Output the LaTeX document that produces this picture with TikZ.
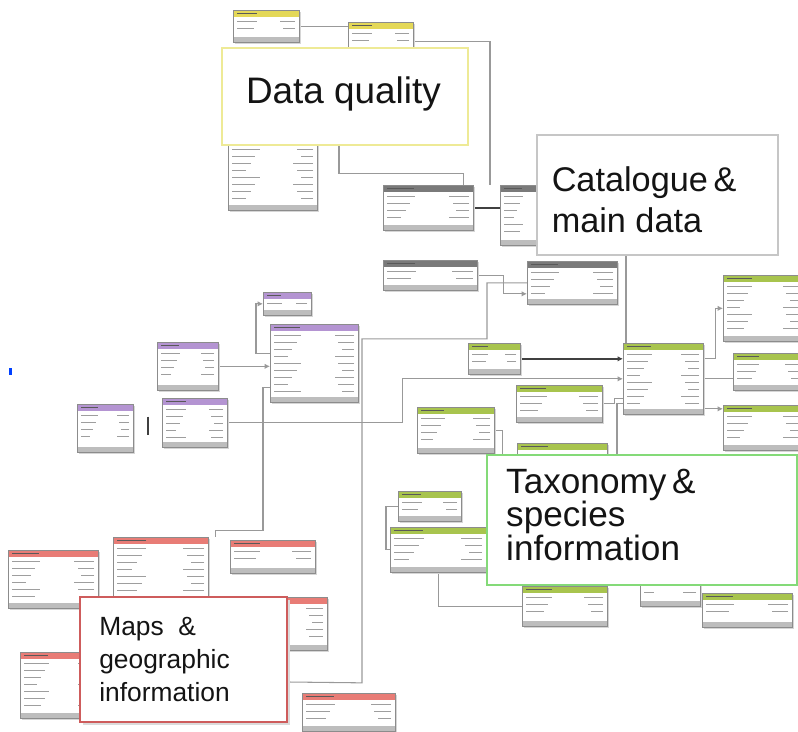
\documentclass[tikz,border=0pt]{standalone}
\usepackage{fontspec}
\setmainfont{Liberation Sans}
\usetikzlibrary{calc,backgrounds,arrows.meta}

\definecolor{dqyellow}{RGB}{228,216,88}
\definecolor{catgray}{RGB}{122,122,122}
\definecolor{geopurple}{RGB}{180,148,210}
\definecolor{taxgreen}{RGB}{168,196,78}
\definecolor{mapred}{RGB}{232,124,118}
\definecolor{dqedge}{RGB}{238,234,150}
\definecolor{catedge}{RGB}{198,198,198}
\definecolor{taxedge}{RGB}{132,218,120}
\definecolor{mapedge}{RGB}{206,92,92}

\tikzset{
	tbl/.style={fill=white, inner sep=0pt, anchor=north west},
	row/.style={black!38, line width=0.9pt},
	link/.style={draw=black!40, line width=0.6pt},
	strong/.style={draw=black!75, line width=0.9pt},
	fk/.style={link, -{Latex[length=3pt,width=3pt]}},
	area/.style={fill=white, inner sep=0pt},
	areatext/.style={inner sep=0pt, align=left, text=black!92}
}

\begin{document}
\begin{tikzpicture}[x=0.02cm, y=-0.02cm]

	\useasboundingbox (0,0) rectangle (798,732);
	\clip (0,0) rectangle (798,732);

	% tables: name / left / top / right / bottom / header colour
	\foreach \n/\xa/\ya/\xb/\yb/\hc in {
		qa/233/10/299/42/dqyellow, qb/348/22/413/60/dqyellow, qc/228/110/317/210/dqyellow,
		ca/383/185/473/230/catgray, cb/500/185/560/245/catgray,
		cc/383/260/477/290/catgray, cd/527/261/617/304/catgray,
		pa/263/292/311/315/geopurple, pb/270/324/358/402/geopurple,
		pc/157/342/218/390/geopurple, pd/162/398/227/447/geopurple, pe/77/404/133/452/geopurple,
		ga/468/343/520/374/taxgreen, gb/516/385/602/422/taxgreen, gc/417/407/494/453/taxgreen,
		gd/517/443/607/480/taxgreen, ge/623/343/703/414/taxgreen,
		gf/723/275/805/341/taxgreen, gg/733/353/805/390/taxgreen, gh/723/405/805/450/taxgreen,
		gi/398/491/461/521/taxgreen, gj/390/527/486/572/taxgreen, gk/522/586/607/626/taxgreen,
		gl/702/593/792/627/taxgreen, gm/640/560/700/606/taxgreen,
		ra/8/550/98/608/mapred, rb/113/537/208/640/mapred, rc/230/540/315/573/mapred,
		rd/250/597/327/650/mapred, re/20/652/100/718/mapred, rf/302/693/395/731/mapred}
	{
		\fill[black!16] (\xa+2,\ya+2) rectangle (\xb+2,\yb+2);
		\node[tbl, minimum width={(\xb-\xa)*0.02cm}, minimum height={(\yb-\ya)*0.02cm}] (\n) at (\xa,\ya) {};
		\fill[\hc] (\xa,\ya) rectangle (\xb,\ya+7);
		\draw[black!65, line width=0.9pt] (\xa+4,\ya+3.5) -- ++({(\xb-\xa)*0.3},0);
		\fill[black!26] (\xa,\yb-5) rectangle (\xb,\yb);
		\pgfmathtruncatemacro\nrows{(\yb-\ya-14)/7}
		\foreach \r in {1,...,\nrows}
		{
			\pgfmathsetmacro\ly{\ya+7+\r*7-2.5}
			\draw[row] (\xa+4,\ly) -- ++({(\xb-\xa)*(0.16+0.05*mod(\r*3,4))},0);
			\draw[row] (\xb-4,\ly) -- ++({-(\xb-\xa)*(0.14+0.04*mod(\r*5,3))},0);
		}
		\draw[black!45] (\n.north west) rectangle (\n.south east);
	}

	\fill[blue!75!cyan] (9,368) rectangle (12,375);

	% the four areas of the schema
	\node[area, draw=dqedge, line width=1.5pt, minimum width=4.92cm, minimum height=1.94cm] (dq) at (345,96.5) {};
	\node[areatext, anchor=west, font=\fontsize{21}{24}\selectfont] (dqtext) at ([xshift=0.5cm, yshift=0.06cm]dq.west) {Data quality};

	\node[area, draw=catedge, line width=0.7pt, minimum width=4.82cm, minimum height=2.4cm] (cat) at (657.5,195) {};
	\node[areatext, anchor=west, font=\fontsize{19.5}{23.5}\selectfont] (cattext) at ([xshift=0.3cm, yshift=-0.1cm]cat.west) {Catalogue\,\&\\main data};

	\node[area, draw=taxedge, line width=1.3pt, minimum width=6.2cm, minimum height=2.6cm] (tax) at (642,520) {};
	\node[areatext, anchor=west, font=\fontsize{20}{19}\selectfont] (taxtext) at ([xshift=0.4cm, yshift=0.1cm]tax.west) {Taxonomy\,\&\\species\\information};

	\fill[black!14] (83,600) rectangle (290,725);
	\node[area, draw=mapedge, line width=1.2pt, minimum width=4.14cm, minimum height=2.5cm] (maps) at (183.5,659.5) {};
	\node[areatext, anchor=west, font=\fontsize{15}{19}\selectfont] (mapstext) at ([xshift=0.4cm]maps.west) {Maps\ \ \&\\geographic\\information};

	\begin{pgfonlayer}{background}
		% data quality
		\draw[link] (qa.east) -- (qa.east -| qb.west);
		\draw[link] (qb.east) -| ([xshift=-0.2cm]cb.north west);
		\draw[link] ([xshift=-0.18cm]qb.south west) -- ++(0,113) -| ([xshift=-0.2cm]ca.north east);
		% catalogue
		\draw[strong] (ca.east) -- (ca.east -| cb.west);
		\draw[fk] (cc.east) -- ++(26,0) |- ([yshift=-0.22cm]cd.west);
		\draw[link] (cd.west) -- ++(-40,0) -- ++(0,56) -- ++(-125,0) -- ++(0,344) -- (maps.east |- 0,682);
		\draw[link] ($(ge.north west)+(3,0)$) -- ($(cat.south -| ge.north west)+(3,0)$);
		% geography
		\draw[fk] (pc.east) -- (pc.east -| pb.west);
		\draw[fk] ([yshift=0.2cm]pb.west) -- ++(-14,0) |- (pa.west);
		\draw[link] ([yshift=-0.48cm]pb.west) -- ++(-7,0) -- ++(0,143) -| ([xshift=0.14cm]rb.north east);
		\draw[strong] ($(pe.east)!0.5!(pd.west)$) ++(0,-9) -- ++(0,18);
		\draw[fk] (pd.east) -- ++(175,0) |- (ge.west);
		% taxonomy
		\draw[strong, -{Latex[length=3pt,width=3pt]}] (ga.east) -- (ga.east -| ge.west);
		\draw[link] (gb.east) -- ++(12,0) |- ([yshift=-0.4cm]ge.west);
		\draw[link] (gc.east) -- ++(8,0) |- (gd.west);
		\draw[fk] ([yshift=0.4cm]ge.east) -- ++(12,0) |- (gf.west);
		\draw[link] (ge.east) -- (ge.east -| gg.west);
		\draw[fk] ($(ge.east)+(0,30)$) -- ($(ge.east -| gh.west)+(0,30)$);
		\draw[link] ($(ge.west)+(0,25)$) -- ++(-6,0) -- ++(0,60);
		\draw[link] (gi.west) -- ++(-12,0) |- (gj.west);
		\draw[link] (gj.south) |- (gk.west);
	\end{pgfonlayer}

\end{tikzpicture}
\end{document}
